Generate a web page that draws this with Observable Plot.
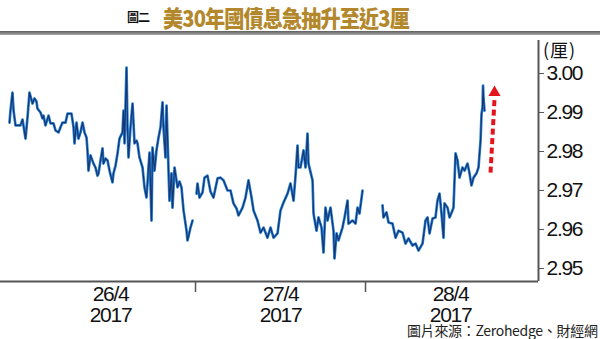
<!DOCTYPE html>
<html><head><meta charset="utf-8">
<script src="https://cdn.jsdelivr.net/npm/d3@7"></script>
<script src="https://cdn.jsdelivr.net/npm/@observablehq/plot@0.6"></script>
<style>
body{margin:0;background:#fff;}
#wrap{position:relative;width:600px;height:339px;overflow:hidden;background:#fff;}
#fig{position:absolute;left:127px;top:10px;font-family:"Noto Sans CJK TC",sans-serif;font-weight:700;font-size:12px;line-height:14px;color:#111;letter-spacing:-1px;}
#title{position:absolute;left:163px;top:2px;white-space:nowrap;line-height:30px;font-family:"Noto Sans CJK TC",sans-serif;font-weight:900;font-size:23px;color:#b3882c;letter-spacing:-1px;transform:scaleX(0.875);transform-origin:left center;}
#rule{position:absolute;left:0;top:31px;width:600px;height:4px;background:linear-gradient(#5e5e5e,#a8a8a8);}
#chart{position:absolute;left:0;top:36px;}
#unit{position:absolute;left:543px;top:38px;font-family:"Noto Sans CJK TC",sans-serif;font-size:18px;line-height:22px;color:#111;letter-spacing:1px;}
#src{position:absolute;left:407px;top:322px;white-space:nowrap;font-family:"Noto Sans CJK TC",sans-serif;font-size:14px;line-height:16px;color:#222;letter-spacing:-0.3px;}
</style></head><body>
<div id="wrap">
 <div id="rule"></div>
 <div id="chart"></div>
 <div id="fig">圖二</div>
 <div id="title">美30年國債息急抽升至近3厘</div>
 <div id="unit">(厘)</div>
 <div id="src">圖片來源：Zerohedge、財經網</div>
</div>
<script>
// hours since 26/4/2017 00:00, 30-year US Treasury yield (%)
const hours26 = [-2.26,-2.12,-1.84,-1.69,-1.41,-0.71,-0.42,0.00,0.28,0.56,0.99,1.27,1.55,1.69,2.12,2.40,2.54,2.82,3.25,3.53,3.95,4.24,4.66,4.94,5.22,5.65,5.93,6.49,6.78,6.92,7.20,7.48,7.76,8.05,8.33,8.61,8.75,8.89,9.18,9.60,9.88,10.16,10.31,10.59,10.87,11.01,11.29,11.58,11.86,12.28,12.42,12.71,12.99,13.27,13.69,13.84,13.98,14.26,14.40,14.54,14.82,15.11,15.39,15.67,15.81,16.09,16.52,16.80,17.08,17.22,17.36,17.51,17.79,17.93,18.21,18.49,18.78,19.06,19.34,19.48,19.76,19.91,20.19,20.33,20.61,20.75,21.04,21.46,21.74,22.02,22.31,22.73,22.87,23.01,23.29,23.58];
const yield26 = [2.9874,2.9905,2.9951,2.9905,2.9867,2.9867,2.9882,2.9833,2.9887,2.9951,2.9923,2.9936,2.9928,2.9910,2.9900,2.9885,2.9892,2.9867,2.9892,2.9872,2.9872,2.9854,2.9849,2.9862,2.9874,2.9874,2.9897,2.9897,2.9862,2.9821,2.9874,2.9833,2.9849,2.9874,2.9849,2.9836,2.9803,2.9751,2.9790,2.9769,2.9759,2.9738,2.9744,2.9777,2.9808,2.9769,2.9782,2.9777,2.9751,2.9721,2.9744,2.9764,2.9795,2.9833,2.9849,2.9905,2.9821,3.0015,2.9862,2.9785,2.9862,2.9923,2.9821,2.9828,2.9821,2.9785,2.9759,2.9708,2.9682,2.9718,2.9759,2.9797,2.9623,2.9810,2.9751,2.9803,2.9836,2.9862,2.9926,2.9862,2.9785,2.9918,2.9751,2.9674,2.9744,2.9656,2.9759,2.9708,2.9723,2.9708,2.9649,2.9597,2.9572,2.9582,2.9605,2.9623];
const hours27 = [24.14,24.28,24.56,24.99,25.27,25.69,26.12,26.54,27.11,27.53,27.95,28.52,28.94,29.36,29.79,30.07,30.64,31.06,31.48,31.91,32.19,32.75,33.18,33.60,34.16,34.59,35.01,35.58,36.00,36.42,36.99,37.41,37.84,38.12,38.40,38.54,38.82,39.25,39.53,39.81,39.95,40.52,40.66,41.08,41.36,41.79,42.07,42.35,42.64,43.06,43.48,43.62,43.91,44.19,44.75,45.04,45.46,45.60,46.16,46.59,46.87,47.15,47.58];
const yield27 = [2.9692,2.9718,2.9682,2.9695,2.9733,2.9738,2.9697,2.9682,2.9731,2.9733,2.9726,2.9700,2.9700,2.9667,2.9654,2.9636,2.9656,2.9682,2.9726,2.9682,2.9649,2.9623,2.9592,2.9605,2.9579,2.9605,2.9579,2.9590,2.9649,2.9669,2.9692,2.9718,2.9674,2.9738,2.9815,2.9759,2.9759,2.9803,2.9759,2.9846,2.9769,2.9726,2.9641,2.9597,2.9631,2.9605,2.9541,2.9656,2.9623,2.9656,2.9597,2.9526,2.9590,2.9572,2.9605,2.9631,2.9674,2.9615,2.9623,2.9615,2.9656,2.9641,2.9700];
const hours28 = [50.40,50.54,50.96,51.25,51.81,52.24,52.66,53.22,53.65,54.07,54.64,55.06,55.48,56.05,56.47,56.75,57.04,57.46,57.88,58.16,58.45,58.73,59.01,59.15,59.58,59.86,60.28,60.42,60.71,60.99,61.27,61.69,61.98,62.40,62.68,62.96,63.25,63.67,63.95,64.24,64.38,64.52,64.59,64.66,64.80];
const yield28 = [2.9662,2.9631,2.9644,2.9618,2.9615,2.9579,2.9597,2.9592,2.9564,2.9577,2.9559,2.9564,2.9546,2.9564,2.9623,2.9631,2.9590,2.9628,2.9631,2.9674,2.9692,2.9641,2.9579,2.9667,2.9656,2.9631,2.9649,2.9656,2.9795,2.9777,2.9733,2.9759,2.9751,2.9769,2.9744,2.9713,2.9733,2.9744,2.9759,2.9828,2.9897,2.9913,2.9969,2.9936,2.9905];

const dayLabels = ["26/4\n2017", "27/4\n2017", "28/4\n2017"];
const dayLabelHours = [12, 36, 60];
const dayBoundaryHours = [24, 48];
const yTicks = [2.95, 2.96, 2.97, 2.98, 2.99, 3.00];
const arrowHours = [65.65, 66.21];
const arrowYields = [2.9746, 2.9934];
const arrowHeadYield = 2.9951;

const xDomain = [-3.53, 72.42];
const yDomain = [2.94667, 3.00846];

const rows = [];
[[hours26, yield26, "26"], [hours27, yield27, "27"], [hours28, yield28, "28"]].forEach(([hs, vs, d]) => {
  hs.forEach((h, i) => rows.push({h, v: vs[i], day: d}));
});

const numFont = "'Liberation Sans',Arial,sans-serif";

const chart = Plot.plot({
  width: 600,
  height: 303,
  marginLeft: 0,
  marginRight: 62,
  marginTop: 4,
  marginBottom: 58,
  style: {fontFamily: numFont, fontSize: "21px", color: "#111", background: "transparent", overflow: "visible"},
  x: {type: "linear", domain: xDomain, axis: null, label: null},
  y: {type: "linear", domain: yDomain, axis: null, label: null},
  marks: [
    Plot.line(rows, {x: "h", y: "v", z: "day", stroke: "#2a86d8", strokeWidth: 2.7, curve: "linear"}),
    Plot.line(rows, {x: "h", y: "v", z: "day", stroke: "#14275f", strokeWidth: 1.2, strokeOpacity: 0.85, curve: "linear"}),
    Plot.ruleY([yDomain[0]], {stroke: "#555", strokeWidth: 2}),
    Plot.ruleX([xDomain[1]], {stroke: "#555", strokeWidth: 2}),
    Plot.axisX(dayBoundaryHours, {tickSize: 11, tickFormat: () => "", stroke: "#555", strokeWidth: 1.5, label: null}),
    Plot.text(dayLabels, {x: (d, i) => dayLabelHours[i], text: d => d, frameAnchor: "bottom", lineAnchor: "top", dy: 5, lineHeight: 1.0, fontSize: 21, fill: "#111"}),
    Plot.axisY(yTicks, {anchor: "right", tickSize: 5, tickPadding: 3, tickFormat: d => d.toFixed(2), fontSize: 21, stroke: "#555", label: null}),
    Plot.link([0], {x1: () => arrowHours[0], y1: () => arrowYields[0], x2: () => arrowHours[1], y2: () => arrowYields[1], stroke: "#e3141b", strokeWidth: 4, strokeDasharray: "6,3.5"}),
    Plot.dot([0], {x: () => arrowHours[1], y: () => arrowHeadYield, symbol: "triangle", r: 4.5, fill: "#e3141b"})
  ]
});
chart.querySelectorAll("text").forEach(t => t.style.letterSpacing = "-1.3px");
document.getElementById("chart").appendChild(chart);
</script>
</body></html>
